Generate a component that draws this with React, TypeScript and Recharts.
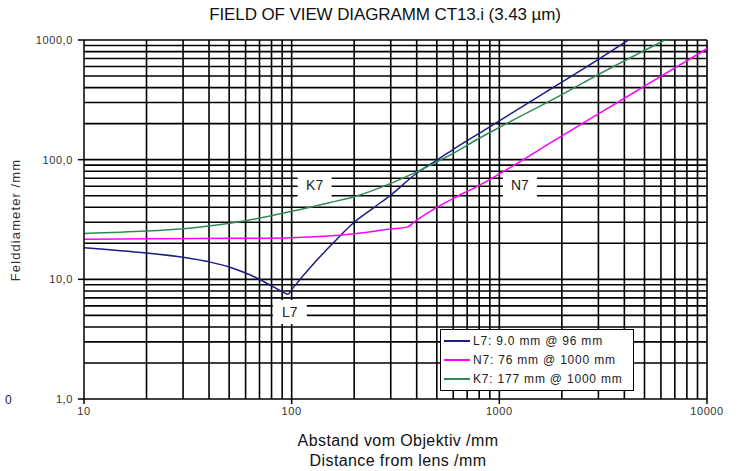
import { LineChart, Line, XAxis, YAxis, ReferenceLine, ReferenceDot } from "recharts";

// Distance from lens (mm) / field diameter (mm)
const l7X = [10, 20, 30, 40, 50, 60, 70, 80, 90, 96, 100, 130, 160, 200, 250, 300, 400, 500, 600, 800, 1000, 2000, 3000, 4180];
const l7Y = [18.4, 16.6, 15.3, 14.0, 12.7, 11.3, 10.0, 8.8, 7.9, 7.5, 8.2, 14, 20.5, 30, 40, 50.6, 77, 99, 122, 166, 211, 445, 690, 1000];

const n7X = [10, 50, 100, 200, 300, 359, 400, 500, 600, 800, 1000, 2000, 3000, 5000, 10000];
const n7Y = [21.6, 22, 22.3, 24, 26.3, 27.3, 31.3, 40, 47.5, 61, 76, 158, 241, 411, 845];

const k7X = [10, 20, 30, 40, 60, 100, 150, 200, 300, 400, 500, 600, 800, 1000, 2000, 3000, 6270];
const k7Y = [24.2, 25.3, 26.5, 27.9, 30.9, 37, 43.5, 49, 63.4, 79, 96, 113, 151, 186, 350, 515, 1000];

const xTicks = [10, 100, 1000, 10000];
const yTicks = [1, 10, 100, 1000];

const xGrid = [
  20, 30, 40, 50, 60, 70, 80, 90, 100,
  200, 300, 400, 500, 600, 700, 800, 900, 1000,
  2000, 3000, 4000, 5000, 6000, 7000, 8000, 9000, 10000,
];
const yGrid = [
  2, 3, 4, 5, 6, 7, 8, 9, 10,
  20, 30, 40, 50, 60, 70, 80, 90, 100,
  200, 300, 400, 500, 600, 700, 800, 900, 1000,
];

const seriesNames = ["L7", "N7", "K7"];
const seriesColors = ["#1c1c84", "#ff00ff", "#2e8b57"];
const legendLabels = ["L7: 9.0 mm @ 96 mm", "N7: 76 mm @ 1000 mm", "K7: 177 mm @ 1000 mm"];

// curve name tags (data coordinates)
const tagNames = ["K7", "N7", "L7"];
const tagX = [129, 1256, 98];
const tagY = [61.4, 61.4, 5.33];

const toPoints = (xs: number[], ys: number[]) => xs.map((x, i) => ({ x, y: ys[i] }));
const series = [toPoints(l7X, l7Y), toPoints(n7X, n7Y), toPoints(k7X, k7Y)];

const font = "'Liberation Sans', Arial, sans-serif";
const tickStyle = { fontSize: 11, fill: "#333", fontFamily: font, letterSpacing: 0.6 };

const Tag = ({ cx, cy, label }: any) => (
  <g>
    <rect x={cx - 17} y={cy - 12} width={34} height={24} fill="#fff" />
    <text x={cx} y={cy + 5} textAnchor="middle" fontSize={14} fontFamily={font} fill="#222">
      {label}
    </text>
  </g>
);

export default function App() {
  return (
    <div style={{ position: "absolute", left: 0, top: 0, width: 742, height: 471, background: "#fff", fontFamily: font }}>
      <div style={{ position: "absolute", left: 0, width: 770, top: 5, textAlign: "center", fontSize: 17, color: "#111", letterSpacing: -0.1 }}>
        FIELD OF VIEW DIAGRAMM CT13.i (3.43 µm)
      </div>
      <LineChart width={742} height={471} margin={{ top: 40, right: 35, left: 24, bottom: 42 }}>
        <XAxis
          dataKey="x"
          type="number"
          scale="log"
          domain={[10, 10000]}
          ticks={xTicks}
          allowDataOverflow
          height={30}
          stroke="#000"
          strokeWidth={1.5}
          tickSize={5}
          tickMargin={3}
          tick={tickStyle}
        />
        <YAxis
          type="number"
          scale="log"
          domain={[1, 1000]}
          ticks={yTicks}
          allowDataOverflow
          width={60}
          stroke="#000"
          strokeWidth={1.5}
          tickSize={6}
          tickMargin={5}
          tickFormatter={(v: number) => v.toFixed(1).replace(".", ",")}
          tick={tickStyle}
        />
        {yGrid.map((v) => (
          <ReferenceLine key={"h" + v} y={v} stroke="#000" strokeWidth={1.6} />
        ))}
        {xGrid.map((v) => (
          <ReferenceLine key={"v" + v} x={v} stroke="#000" strokeWidth={1.6} />
        ))}
        {series.map((d, i) => (
          <Line
            key={seriesNames[i]}
            data={d}
            dataKey="y"
            name={seriesNames[i]}
            type="monotone"
            stroke={seriesColors[i]}
            strokeWidth={1.5}
            dot={false}
            isAnimationActive={false}
          />
        ))}
        {tagNames.map((t, i) => (
          <ReferenceDot
            key={t}
            x={tagX[i]}
            y={tagY[i]}
            r={1}
            shape={(p: any) => <Tag cx={p.cx} cy={p.cy} label={t} />}
          />
        ))}
      </LineChart>
      <div
        style={{
          position: "absolute",
          left: 440,
          top: 329,
          width: 189,
          height: 59,
          border: "1.5px solid #000",
          background: "#fff",
          padding: "1px 0 0 3px",
          fontSize: 12,
          color: "#222",
          letterSpacing: 0.8,
        }}
      >
        {legendLabels.map((l, i) => (
          <div key={l} style={{ display: "flex", alignItems: "center", height: 19, whiteSpace: "nowrap" }}>
            <span style={{ display: "inline-block", width: 26, height: 2, background: seriesColors[i], marginRight: 3 }} />
            {l}
          </div>
        ))}
      </div>
      <div
        style={{
          position: "absolute",
          left: 15,
          top: 220,
          transform: "translate(-50%, -50%) rotate(-90deg)",
          fontSize: 13,
          color: "#333",
          whiteSpace: "nowrap",
          letterSpacing: 1.1,
        }}
      >
        Felddiameter /mm
      </div>
      <div style={{ position: "absolute", left: 5, top: 393, fontSize: 12, color: "#222" }}>0</div>
      <div style={{ position: "absolute", left: 0, width: 796, top: 431, textAlign: "center", fontSize: 16, color: "#111", lineHeight: "20px", letterSpacing: 0.4 }}>
        <div>Abstand vom Objektiv /mm</div>
        <div>Distance from lens /mm</div>
      </div>
    </div>
  );
}
